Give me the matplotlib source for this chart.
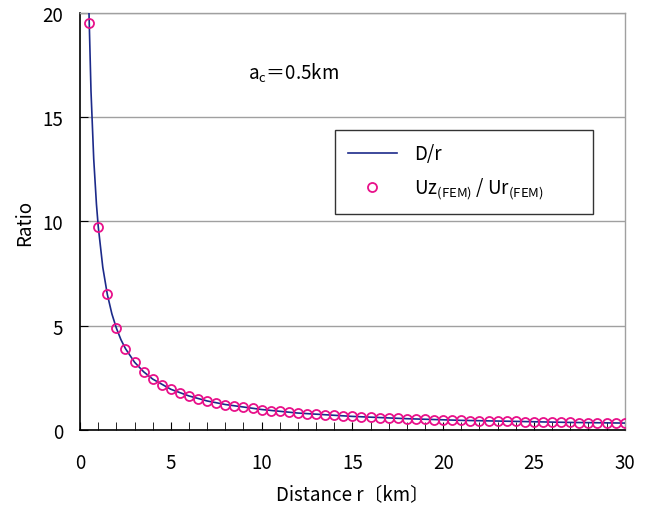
import numpy as np
import matplotlib
matplotlib.use('Agg')
import matplotlib.pyplot as plt
from matplotlib.ticker import MultipleLocator

plt.rcParams['font.family'] = ['Noto Sans CJK JP', 'DejaVu Sans']
plt.rcParams['mathtext.fontset'] = 'custom'
plt.rcParams['mathtext.rm'] = 'Noto Sans CJK JP'
plt.rcParams['mathtext.it'] = 'Noto Sans CJK JP'

# FEM ratio, r = 0.5 ... 30 km
fem_r = [0.5, 1.0, 1.5, 2.0, 2.5, 3.0, 3.5, 4.0, 4.5, 5.0,
         5.5, 6.0, 6.5, 7.0, 7.5, 8.0, 8.5, 9.0, 9.5, 10.0,
         10.5, 11.0, 11.5, 12.0, 12.5, 13.0, 13.5, 14.0, 14.5, 15.0,
         15.5, 16.0, 16.5, 17.0, 17.5, 18.0, 18.5, 19.0, 19.5, 20.0,
         20.5, 21.0, 21.5, 22.0, 22.5, 23.0, 23.5, 24.0, 24.5, 25.0,
         25.5, 26.0, 26.5, 27.0, 27.5, 28.0, 28.5, 29.0, 29.5, 30.0]
fem_ratio = [19.5, 9.75, 6.5, 4.88, 3.9, 3.25, 2.79, 2.44, 2.17, 1.95,
             1.77, 1.63, 1.5, 1.39, 1.3, 1.22, 1.15, 1.08, 1.03, 0.98,
             0.93, 0.89, 0.85, 0.81, 0.78, 0.75, 0.72, 0.70, 0.67, 0.65,
             0.63, 0.61, 0.59, 0.57, 0.56, 0.54, 0.53, 0.51, 0.50, 0.49,
             0.48, 0.46, 0.45, 0.44, 0.43, 0.42, 0.41, 0.41, 0.40, 0.39,
             0.38, 0.38, 0.37, 0.36, 0.35, 0.35, 0.34, 0.34, 0.33, 0.33]

# D/r curve
line_r = [0.49, 0.6, 0.75, 0.9, 1.0, 1.25, 1.5, 1.75, 2.0, 2.25, 2.5, 3.0,
          3.5, 4.0, 5.0, 6.0, 7.0, 8.0, 10.0, 12.0, 15.0, 18.0, 21.0,
          24.0, 27.0, 30.0]
line_ratio = [20.0, 16.25, 13.0, 10.83, 9.75, 7.8, 6.5, 5.57, 4.88, 4.33,
              3.9, 3.25, 2.79, 2.44, 1.95, 1.63, 1.39, 1.22, 0.98, 0.81,
              0.65, 0.54, 0.46, 0.41, 0.36, 0.33]

fig = plt.figure(figsize=(6.46, 5.10), dpi=100)
ax = fig.add_axes([0.124, 0.155, 0.843, 0.8175])

ax.plot(line_r, line_ratio, color='#1c2a8a', lw=1.2, label='D/r', zorder=3)
ax.plot(fem_r, fem_ratio, ls='none', marker='o', ms=6.5, mfc='none',
        mec='#e8118a', mew=1.3, label='Uz$_{\\rm (FEM)}$ / Ur$_{\\rm (FEM)}$',
        zorder=4)

ax.set_xlim(0, 30)
ax.set_ylim(0, 20)
ax.xaxis.set_major_locator(MultipleLocator(5))
ax.xaxis.set_minor_locator(MultipleLocator(1))
ax.yaxis.set_major_locator(MultipleLocator(5))
ax.tick_params(which='both', direction='in', labelsize=13.5, color='black')
ax.tick_params(axis='x', which='major', length=6, pad=16)
ax.tick_params(axis='x', which='minor', length=6)
ax.tick_params(axis='y', length=6, pad=12)

ax.grid(axis='y', color='#a0a0a0', lw=1.0)
ax.set_axisbelow(True)
for s in ['left', 'bottom']:
    ax.spines[s].set_color('black')
    ax.spines[s].set_linewidth(1.2)
for s in ['right', 'top']:
    ax.spines[s].set_color('#a0a0a0')
    ax.spines[s].set_linewidth(1.0)

ax.set_xlabel('Distance r〔km〕', fontsize=13.5, labelpad=7)
ax.set_ylabel('Ratio', fontsize=13.5, labelpad=5)

ax.text(0.308, 0.857, 'a$_{\\rm c}$＝0.5km', transform=ax.transAxes,
        fontsize=13.5, va='center')

leg = ax.legend(loc='upper left', bbox_to_anchor=(0.468, 0.518, 0.473, 0.201),
                mode='expand', fontsize=13.5, frameon=True, fancybox=False,
                edgecolor='black', borderpad=0.7, labelspacing=0.6,
                handlelength=2.6, handletextpad=0.9, borderaxespad=0)
leg.get_frame().set_linewidth(1.0)

fig.savefig('out.png', dpi=100)
